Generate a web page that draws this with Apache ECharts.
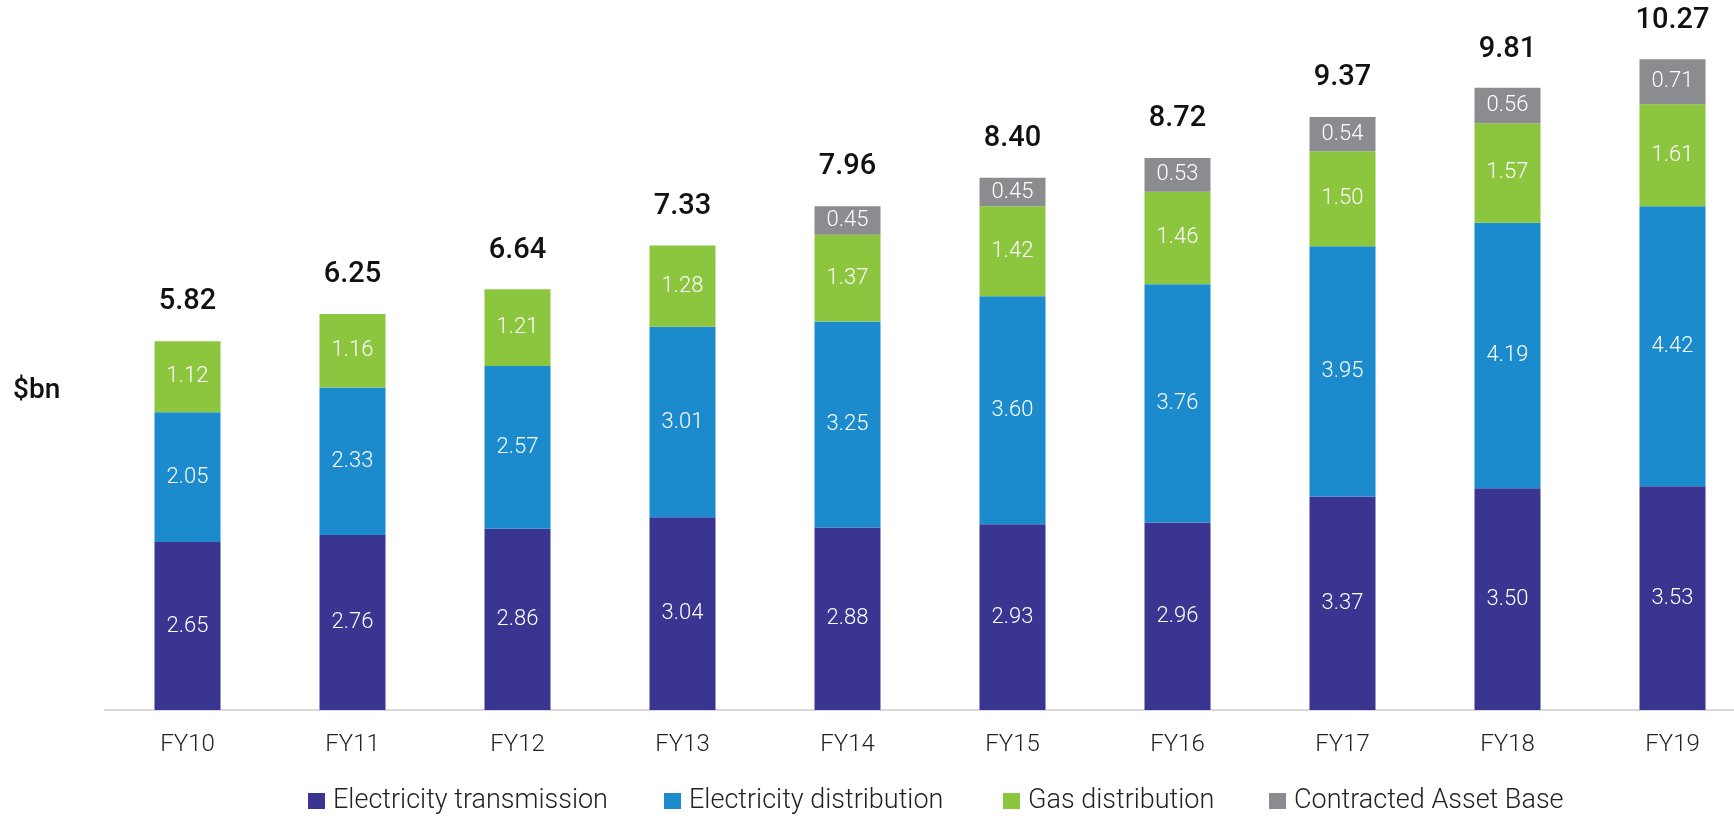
<!DOCTYPE html>
<html>
<head>
<meta charset="utf-8">
<script src="https://cdn.jsdelivr.net/npm/echarts@6/dist/echarts.min.js"></script>
<style>
html,body{margin:0;padding:0;background:#fff;overflow:hidden;width:1734px;height:818px;}
#chart{width:1755px;height:818px;}
</style>
</head>
<body>
<div id="chart"></div>
<script>
const categories = ['FY10','FY11','FY12','FY13','FY14','FY15','FY16','FY17','FY18','FY19'];
const transmission = [2.65, 2.76, 2.86, 3.04, 2.88, 2.93, 2.96, 3.37, 3.50, 3.53];
const distribution = [2.05, 2.33, 2.57, 3.01, 3.25, 3.60, 3.76, 3.95, 4.19, 4.42];
const gas = [1.12, 1.16, 1.21, 1.28, 1.37, 1.42, 1.46, 1.50, 1.57, 1.61];
const cab = [null, null, null, null, 0.45, 0.45, 0.53, 0.54, 0.56, 0.71];
const totals = [5.82, 6.25, 6.64, 7.33, 7.96, 8.40, 8.72, 9.37, 9.81, 10.27];
const seriesNames = ['Electricity transmission','Electricity distribution','Gas distribution','Contracted Asset Base'];
const colors = ['#3a3591','#1b8bcd','#8cc63f','#8a8c90'];

const FONT = 'Roboto';
const chart = echarts.init(document.getElementById('chart'), null, {renderer:'canvas'});

const innerLabel = {
  show: true, position: 'inside', color: '#fff', fontFamily: FONT,
  fontSize: 22, fontWeight: 300,
  formatter: p => p.value == null ? '' : p.value.toFixed(2)
};

function barSeries(name, data, color) {
  return {
    name, type: 'bar', stack: 'total', data, barWidth: 66,
    itemStyle: {color},
    label: innerLabel,
    emphasis: {disabled: true}
  };
}

const legendLefts = [308, 664, 1003, 1269];

chart.setOption({
  animation: false,
  color: colors,
  grid: {left: 105, top: 13, right: 0, height: 697, containLabel: false},
  xAxis: {
    type: 'category', data: categories,
    axisLine: {show: true, lineStyle: {color: '#d9d9d9', width: 2}},
    axisTick: {show: false},
    axisLabel: {color: '#222', fontFamily: FONT, fontSize: 24, fontWeight: 300, margin: 23}
  },
  yAxis: {
    type: 'value', min: 0, max: 11,
    show: false, splitLine: {show: false}
  },
  legend: seriesNames.map((n, i) => ({
    data: [n], left: legendLefts[i], top: 786, padding: 0,
    itemWidth: 17, itemHeight: 16, icon: 'rect',
    textStyle: {color: '#222', fontFamily: FONT, fontSize: 27, fontWeight: 300, lineHeight: 30, padding: [0,0,0,3]}
  })),
  graphic: [{
    type: 'text', left: 13, top: 377,
    style: {text: '$bn', fill: '#111', font: '500 28px ' + FONT}
  }],
  series: [
    barSeries(seriesNames[0], transmission, colors[0]),
    barSeries(seriesNames[1], distribution, colors[1]),
    barSeries(seriesNames[2], gas, colors[2]),
    barSeries(seriesNames[3], cab, colors[3]),
    {
      name: 'Total', type: 'line', data: totals,
      symbol: 'circle', symbolSize: 1, showSymbol: true,
      itemStyle: {color: 'rgba(0,0,0,0)'},
      lineStyle: {opacity: 0}, silent: true, z: 10,
      label: {
        show: true, position: 'top', distance: 24,
        color: '#111', fontFamily: FONT, fontSize: 29, fontWeight: 500,
        formatter: p => p.value.toFixed(2)
      }
    }
  ]
});
</script>
</body>
</html>
